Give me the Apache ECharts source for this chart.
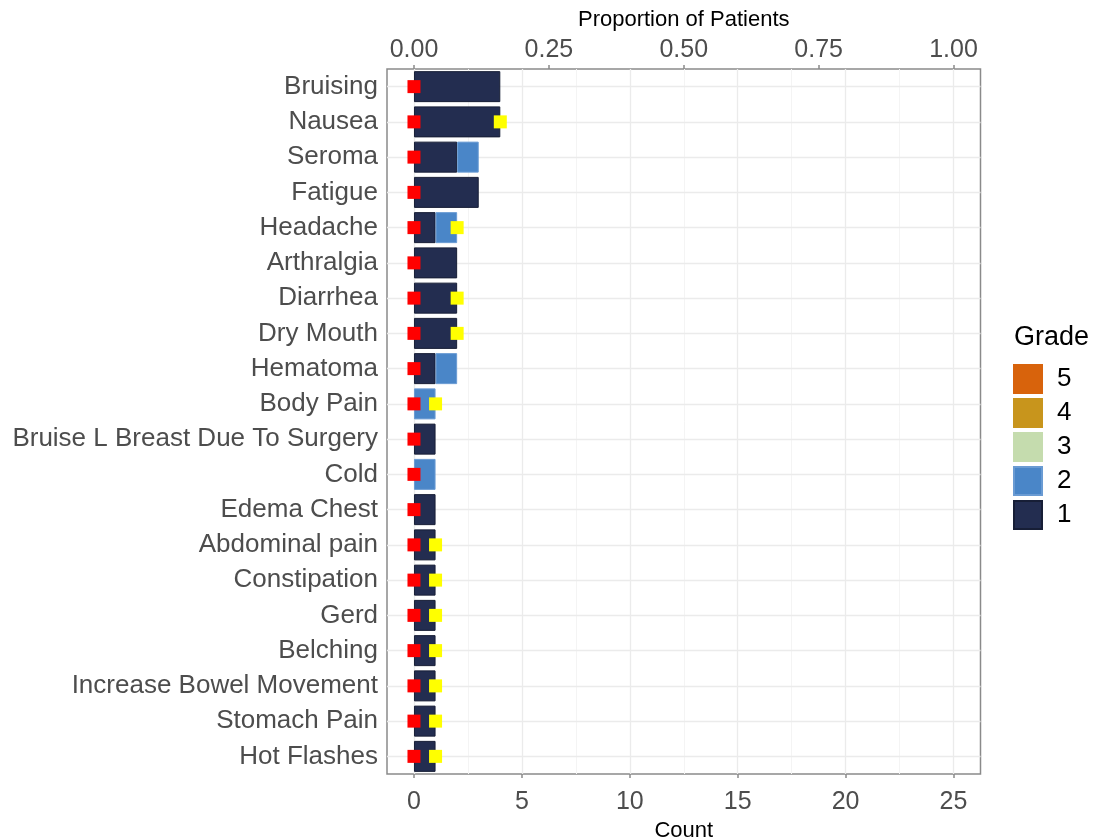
<!DOCTYPE html>
<html>
<head>
<meta charset="utf-8">
<script src="https://cdn.jsdelivr.net/npm/echarts@6/dist/echarts.min.js"></script>
<style>
  html, body { margin: 0; padding: 0; background: #fff; }
  #chart { width: 1098px; height: 840px; }
</style>
</head>
<body>
<div id="chart"></div>
<script>
// adverse events, top to bottom
const categories = [
  "Bruising", "Nausea", "Seroma", "Fatigue", "Headache", "Arthralgia", "Diarrhea",
  "Dry Mouth", "Hematoma", "Body Pain", "Bruise L Breast Due To Surgery", "Cold",
  "Edema Chest", "Abdominal pain", "Constipation", "Gerd", "Belching",
  "Increase Bowel Movement", "Stomach Pain", "Hot Flashes"
];
// counts per grade
const grade1 = [4, 4, 2, 3, 1, 2, 2, 2, 1, 0, 1, 0, 1, 1, 1, 1, 1, 1, 1, 1];
const grade2 = [0, 0, 1, 0, 1, 0, 0, 0, 1, 1, 0, 1, 0, 0, 0, 0, 0, 0, 0, 0];
const grade3 = [0, 0, 0, 0, 0, 0, 0, 0, 0, 0, 0, 0, 0, 0, 0, 0, 0, 0, 0, 0];
const grade4 = [0, 0, 0, 0, 0, 0, 0, 0, 0, 0, 0, 0, 0, 0, 0, 0, 0, 0, 0, 0];
const grade5 = [0, 0, 0, 0, 0, 0, 0, 0, 0, 0, 0, 0, 0, 0, 0, 0, 0, 0, 0, 0];
// marker positions (count)
const redMarks = [0, 0, 0, 0, 0, 0, 0, 0, 0, 0, 0, 0, 0, 0, 0, 0, 0, 0, 0, 0];
const yellowMarks = [null, 4, null, null, 2, null, 2, 2, null, 1, null, null, null, 1, 1, 1, 1, 1, 1, 1];
// axis ticks
const countTicks = [0, 5, 10, 15, 20, 25];
const countMinor = [2.5, 7.5, 12.5, 17.5, 22.5];
const propTicks = [0, 0.25, 0.5, 0.75, 1];

const gradeColors = { "1": "#232d50", "2": "#4a86c8", "3": "#c5dcae", "4": "#c8951c", "5": "#d8630c" };
const FONT = "'Liberation Sans', Arial, sans-serif";
const GRID_C = "#ebebeb";
const BORDER_C = "#8a8a8a";

const chart = echarts.init(document.getElementById("chart"), null, { renderer: "canvas" });

const gridLines = [
  ...countMinor.map((v) => ({ xAxis: v, lineStyle: { color: "#f4f4f4", width: 1, type: "solid" } })),
  ...countTicks.map((v) => ({ xAxis: v, lineStyle: { color: GRID_C, width: 1.3, type: "solid" } })),
  ...categories.map((c) => ({ yAxis: c, lineStyle: { color: GRID_C, width: 1.3, type: "solid" } })),
];

// zero counts are left out so that they draw no sliver
function gradeSeries(name, data) {
  return {
    name,
    type: "bar",
    stack: "g",
    data: data.map((v) => (v ? v : null)),
    barWidth: 31,
    itemStyle: {
      color: gradeColors[name],
      borderColor: name === "1" ? "#171e36" : name === "2" ? "#6a9bd3" : gradeColors[name],
      borderWidth: 1,
    },
    z: 2,
  };
}

const series = [
  {
    ...gradeSeries("1", grade1),
    markLine: {
      silent: true,
      symbol: "none",
      z: 1,
      animation: false,
      label: { show: false },
      emphasis: { disabled: true },
      lineStyle: { type: "solid" },
      data: gridLines,
    },
  },
  gradeSeries("2", grade2),
  gradeSeries("3", grade3),
  gradeSeries("4", grade4),
  gradeSeries("5", grade5),
  {
    name: "red",
    type: "scatter",
    symbol: "rect",
    symbolSize: 13,
    itemStyle: { color: "#ff0000", opacity: 1 },
    data: redMarks.map((v, i) => [v, categories[i]]),
    z: 4,
  },
  {
    name: "yellow",
    type: "scatter",
    symbol: "rect",
    symbolSize: 13,
    itemStyle: { color: "#ffff00", opacity: 1 },
    data: yellowMarks.map((v, i) => (v == null ? null : [v, categories[i]])).filter((d) => d),
    z: 4,
  },
];

chart.setOption({
  backgroundColor: "#fff",
  animation: false,
  textStyle: { fontFamily: FONT },
  title: {
    text: "Grade",
    left: 1009,
    top: 319,
    textStyle: { fontFamily: FONT, fontSize: 27, fontWeight: "normal", color: "#000" },
  },
  legend: {
    orient: "vertical",
    left: 1013,
    top: 364,
    padding: 0,
    itemWidth: 28,
    itemHeight: 28,
    itemGap: 4,
    icon: "rect",
    selectedMode: false,
    data: ["5", "4", "3", "2", "1"],
    textStyle: { fontFamily: FONT, fontSize: 26, color: "#000", padding: [0, 0, 0, 10] },
  },
  grid: {
    left: 387,
    right: 117.5,
    top: 69,
    bottom: 66,
    outerBoundsMode: "none",
    containLabel: false,
    show: true,
    backgroundColor: "#fff",
    borderColor: BORDER_C,
    borderWidth: 1.5,
  },
  xAxis: [
    {
      type: "value",
      position: "bottom",
      min: -1.25,
      max: 26.25,
      name: "Count",
      nameLocation: "middle",
      nameGap: 37,
      nameTextStyle: { fontFamily: FONT, fontSize: 22, color: "#000" },
      axisLine: { show: false },
      axisTick: { show: true, length: 4, lineStyle: { color: BORDER_C, width: 1.5 }, customValues: countTicks },
      axisLabel: { fontSize: 25, color: "#4d4d4d", margin: 16, customValues: countTicks, formatter: (v) => String(v) },
      splitLine: { show: false },
    },
    {
      type: "value",
      position: "top",
      min: -0.05,
      max: 1.05,
      name: "Proportion of Patients",
      nameLocation: "middle",
      nameGap: 38,
      nameTextStyle: { fontFamily: FONT, fontSize: 22, color: "#000" },
      axisLine: { show: false },
      axisTick: { show: true, length: 4, lineStyle: { color: BORDER_C, width: 1.5 }, customValues: propTicks },
      axisLabel: { fontSize: 25, color: "#4d4d4d", margin: 6, customValues: propTicks, formatter: (v) => v.toFixed(2) },
      splitLine: { show: false },
    },
  ],
  yAxis: {
    type: "category",
    inverse: true,
    data: categories,
    axisLine: { show: false },
    axisTick: { show: true, alignWithLabel: true, length: 4, lineStyle: { color: BORDER_C, width: 1.5 } },
    axisLabel: { fontSize: 26, color: "#4d4d4d", margin: 9, interval: 0 },
    splitLine: { show: false },
  },
  series,
});
</script>
</body>
</html>
